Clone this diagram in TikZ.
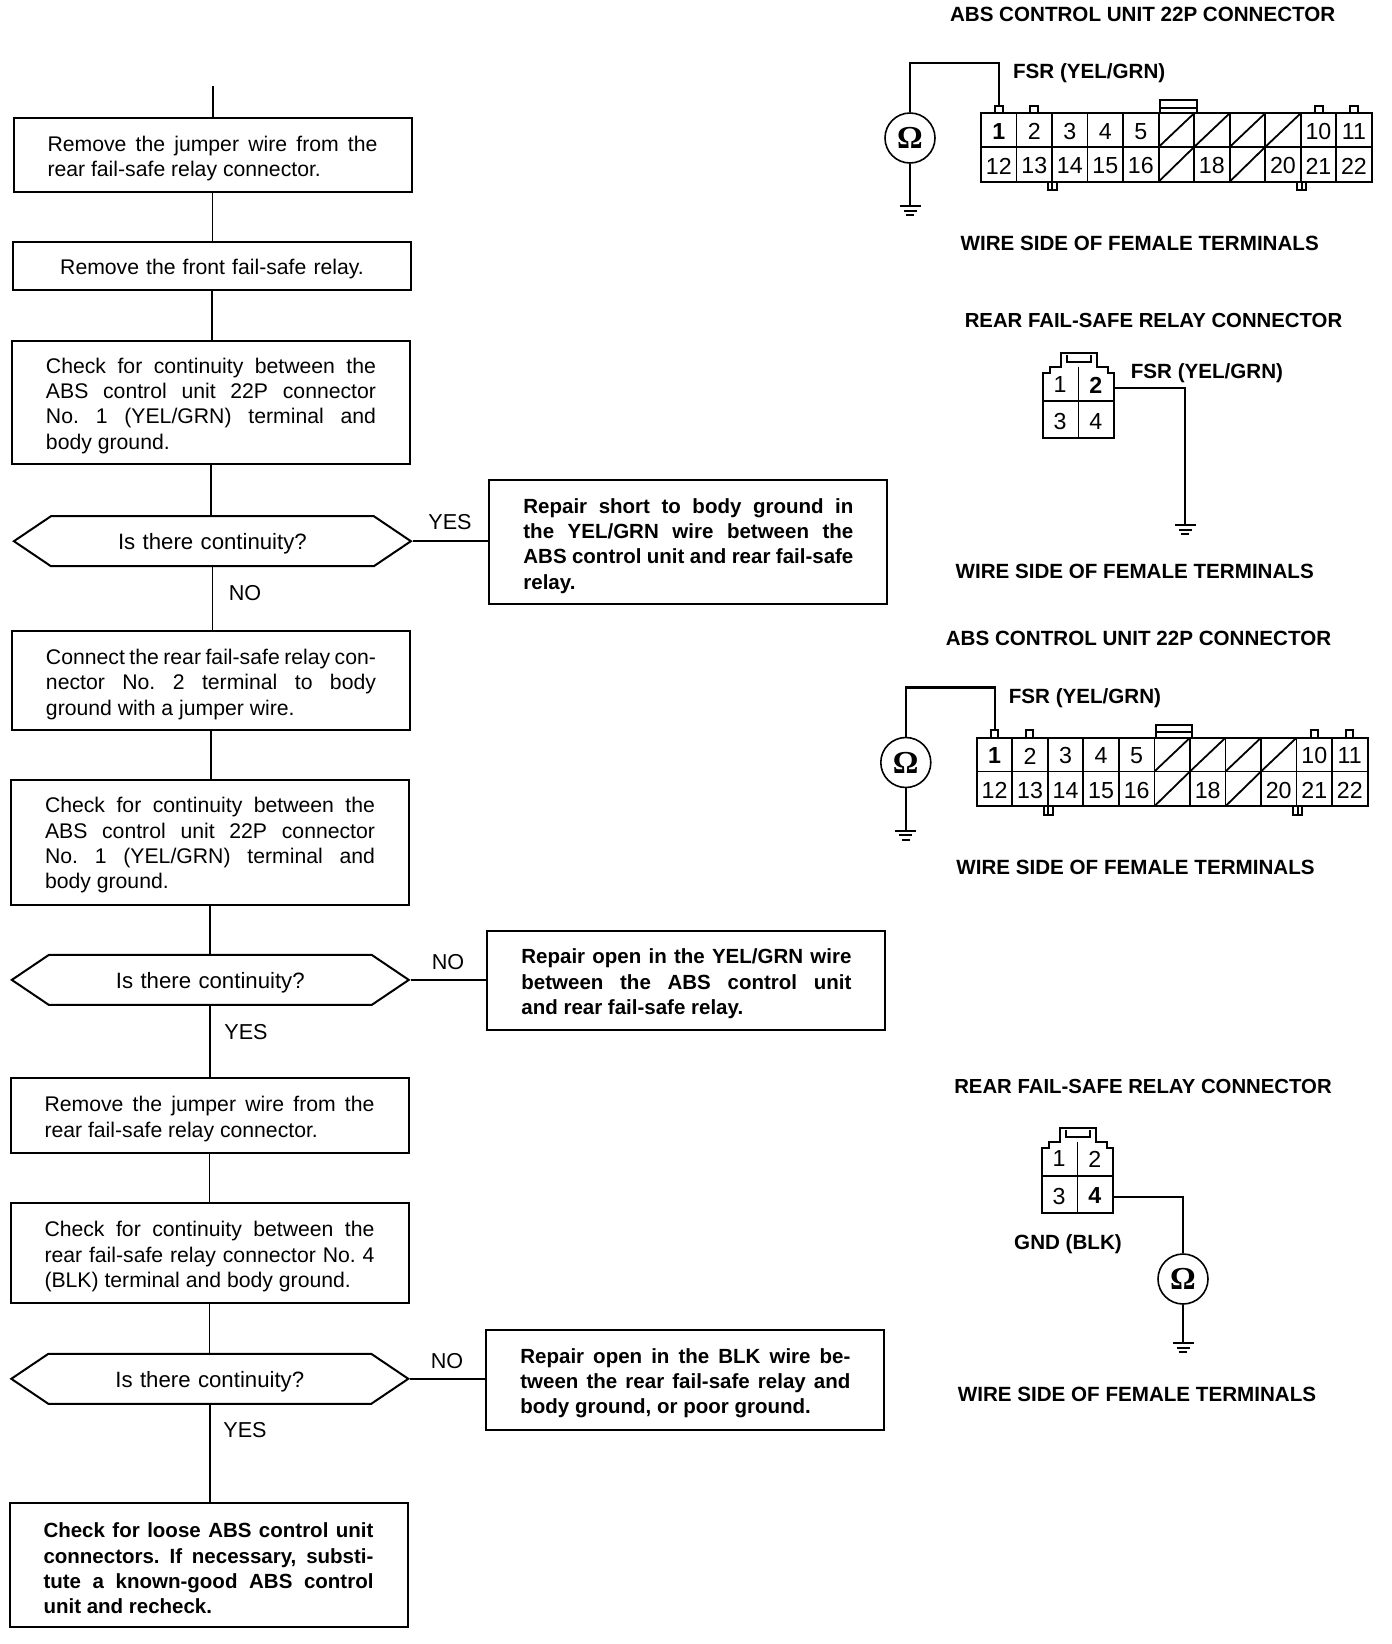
\documentclass[tikz,border=0pt]{standalone}
\usepackage{fontspec}
\setmainfont{Liberation Sans}
\newfontfamily\omfont{Liberation Serif}
\usetikzlibrary{shapes.symbols}

\tikzset{
  boxnode/.style={draw,line width=1pt,minimum width=199pt,text width=165pt,inner sep=0pt,align=justify,
    execute at begin node={\rule{0pt}{11pt}},font=\fontsize{10.6}{12.65}\selectfont\frenchspacing},
  centbox/.style={boxnode,align=center},
  redbox/.style={boxnode,font=\fontsize{10.25}{12.65}\selectfont\bfseries\frenchspacing},
  hexnode/.style={draw,line width=1pt,signal,signal to=west and east,signal pointer angle=68,minimum width=198.5pt,
    minimum height=25pt,text width=120pt,align=center,inner sep=0pt,execute at begin node={\rule{0pt}{11pt}},
    font=\fontsize{11.1}{12.65}\selectfont},
  answer/.style={inner sep=0pt,font=\fontsize{10.8}{13}\selectfont},
  head/.style={inner sep=0pt,font=\fontsize{10.3}{12}\selectfont\bfseries},
  rearhead/.style={head,font=\fontsize{10.17}{12}\selectfont\bfseries},
  digit/.style={inner sep=0pt,font=\fontsize{11.6}{13}\selectfont},
  meter/.style={draw,circle,line width=.8pt,minimum size=25pt,inner sep=0pt,font=\fontsize{16}{16}\selectfont\omfont\bfseries},
  flow/.style={line width=.9pt},
  wire/.style={line width=1.1pt},
  conn/.style={line width=1pt},
  gnd/.pic={\draw[line width=1pt] (-10.5,0)--(10.5,0) (-6.5,4.5)--(6.5,4.5) (-4,9)--(4,9);}
}

\newcommand{\absconn}[2]{
\begin{scope}[shift={#2}]
\node[head] (#1title) at (1142.7,14) {ABS CONTROL UNIT 22P CONNECTOR};
\node[head] (#1fsr) at (1089.2,73.5) {FSR (YEL/GRN)};
\node[head] (#1side) at (1139.7,243) {WIRE SIDE OF FEMALE TERMINALS};
\node[meter] (#1m) at (910,138) {Ω};
\coordinate (#1bend) at (999,63);
\coordinate (#1pin) at (999,105);
\coordinate (#1g) at (910,206);
\draw[wire] (#1m.north) |- (#1bend) -- (#1pin);
\draw[flow] (#1m.south) -- (#1g);
\pic at (#1g) {gnd};
\draw[conn] (981,113.3) rectangle (1371.7,181.7);
\draw[flow] (981,147) -- (1371.7,147);
\foreach \c in {1,...,10}
  \draw[flow] (981+35.52*\c,113.3) -- (981+35.52*\c,181.7);
\foreach \c/\n in {1/\textbf{1},2/2,3/3,4/4,5/5,10/10,11/11}
  \node[digit] (#1t\c) at (981+35.52*\c-17.76,131.5) {\n};
\foreach \c/\n in {1/12,2/13,3/14,4/15,5/16,7/18,9/20,10/21,11/22}
  \node[digit] (#1b\c) at (981+35.52*\c-17.76,166) {\n};
\foreach \c in {6,7,8,9}
  \draw[flow] (981+35.52*\c-35.52,147) -- (981+35.52*\c,113.3);
\foreach \c in {6,8}
  \draw[flow] (981+35.52*\c-35.52,181.7) -- (981+35.52*\c,147);
\foreach \x in {995,1030,1315,1350}
  \draw[conn] (\x,113.3) |- (\x+7.5,105.5) -- (\x+7.5,113.3);
\foreach \x in {1047.7,1297.3}
  \draw[conn] (\x,181.7) |- (\x+9,190) -- (\x+9,181.7) (\x+4.5,181.7) -- (\x+4.5,190);
\draw[conn] (1160,113.3) |- (1196.5,100) -- (1196.5,113.3) (1160,107.5) -- (1196.5,107.5);
\end{scope}
}

\newcommand{\relayconn}[3]{
\begin{scope}[shift={#2}]
\draw[conn] (1042.7,373.3) -| (1050,366.7) -| (1060.7,352.7) -| (1097.3,366.7) -| (1108.3,373.3) -| (1114,438) -| cycle;
\draw[flow] (1067,355) |- (1090.7,362) -- (1090.7,355);
\draw[flow] (1042.7,401) -- (1114,401) (1078.5,366.7) -- (1078.5,438);
\foreach \c/\x/\y/\n in #3
  \node[digit] (#1p\c) at (\x,\y) {\n};
\end{scope}
}

\begin{document}
\begin{tikzpicture}[x=.5pt,y=-.5pt]
\useasboundingbox (0,0) rectangle (1392,1644);
\node[boxnode,minimum height=37pt] (b1) at (212.5,155) {Remove the jumper wire from the\linebreak rear fail-safe relay connector.};
\node[centbox,minimum height=24pt] (b2) at (212,266) {Remove the front fail-safe relay.};
\node[boxnode,minimum height=61.5pt] (b3) at (211,402.5) {Check for continuity between the\linebreak ABS control unit 22P connector\linebreak No. 1 (YEL/GRN) terminal and\linebreak body ground.};
\node[hexnode] (d1) at (212.4,541.2) {Is there continuity?};
\node[redbox,minimum height=62pt] (r1) at (688.4,542.2) {Repair short to body ground in\linebreak the YEL/GRN wire between the\linebreak ABS control unit and rear fail-safe\linebreak relay.};
\node[answer] (ans1) at (450,522.3) {YES};
\node[answer] (ans2) at (245,592.9) {NO};
\node[boxnode,minimum height=49.5pt] (b4) at (211,680.9) {Connect the rear fail-safe relay con-\linebreak nector No. 2 terminal to body\linebreak ground with a jumper wire.};
\node[boxnode,minimum height=62.5pt] (b5) at (210,842.1) {Check for continuity between the\linebreak ABS control unit 22P connector\linebreak No. 1 (YEL/GRN) terminal and\linebreak body ground.};
\node[hexnode] (d2) at (210.3,979.9) {Is there continuity?};
\node[redbox,minimum height=49.5pt] (r2) at (686.4,980.4) {Repair open in the YEL/GRN wire\linebreak between the ABS control unit\linebreak and rear fail-safe relay.};
\node[answer] (ans3) at (448,962) {NO};
\node[answer] (ans4) at (246,1031.6) {YES};
\node[boxnode,minimum height=37.5pt] (b6) at (209.5,1115.7) {Remove the jumper wire from the\linebreak rear fail-safe relay connector.};
\node[boxnode,minimum height=50pt] (b7) at (209.5,1253.4) {Check for continuity between the\linebreak rear fail-safe relay connector No. 4\linebreak (BLK) terminal and body ground.};
\node[hexnode] (d3) at (209.8,1378.8) {Is there continuity?};
\node[redbox,minimum height=50pt] (r3) at (685.4,1379.8) {Repair open in the BLK wire be-\linebreak tween the rear fail-safe relay and\linebreak body ground, or poor ground.};
\node[answer] (ans5) at (447,1360.9) {NO};
\node[answer] (ans6) at (245,1430.5) {YES};
\node[redbox,minimum height=62pt] (b8) at (208.5,1564.8) {Check for loose ABS control unit\linebreak connectors. If necessary, substi-\linebreak tute a known-good ABS control\linebreak unit and recheck.};

\coordinate (start) at (213,86);
\draw[flow] (start) -- (start |- b1.north);
\foreach \a/\b in {b1/b2,b2/b3,b3/d1,d1/b4,b4/b5,b5/d2,d2/b6,b6/b7,b7/d3,d3/b8}
  \draw[flow] (\a.south) -- (\a.south |- \b.north);
\foreach \a/\b in {d1/r1,d2/r2,d3/r3}
  \draw[flow] (\a.east) -- (\a.east -| \b.west);

\absconn{a}{(0,0)}
\absconn{c}{(-4.2,624.5)}

\node[rearhead] (rtitle) at (1153.5,320) {REAR FAIL-SAFE RELAY CONNECTOR};
\node[head] (rfsr) at (1207,373.3) {FSR (YEL/GRN)};
\node[head] (rside) at (1134.7,571) {WIRE SIDE OF FEMALE TERMINALS};
\relayconn{e}{(0,0)}{{1/1060/385/1,2/1095.7/385/\textbf{2},3/1060/421.7/3,4/1095.7/421.7/4}}
\coordinate (ewire) at (1114,388);
\coordinate (ebend) at (1185,388);
\coordinate (eg) at (1185,525);
\draw[wire] (ewire) -- (ebend) -- (eg);
\pic at (eg) {gnd};

\node[rearhead] (stitle) at (1143,1086) {REAR FAIL-SAFE RELAY CONNECTOR};
\node[head] (gndlab) at (1068,1244) {GND (BLK)};
\node[head] (sside) at (1137,1394) {WIRE SIDE OF FEMALE TERMINALS};
\relayconn{s}{(-1,775)}{{1/1060/384/1,2/1095.7/384/2,3/1060/421/3,4/1095.7/421/\textbf{4}}}
\node[meter] (sm) at (1183,1279) {Ω};
\coordinate (swire) at (1113,1197);
\coordinate (sg) at (1183,1343);
\draw[wire] (swire) -| (sm.north);
\draw[flow] (sm.south) -- (sg);
\pic at (sg) {gnd};
\end{tikzpicture}
\end{document}
